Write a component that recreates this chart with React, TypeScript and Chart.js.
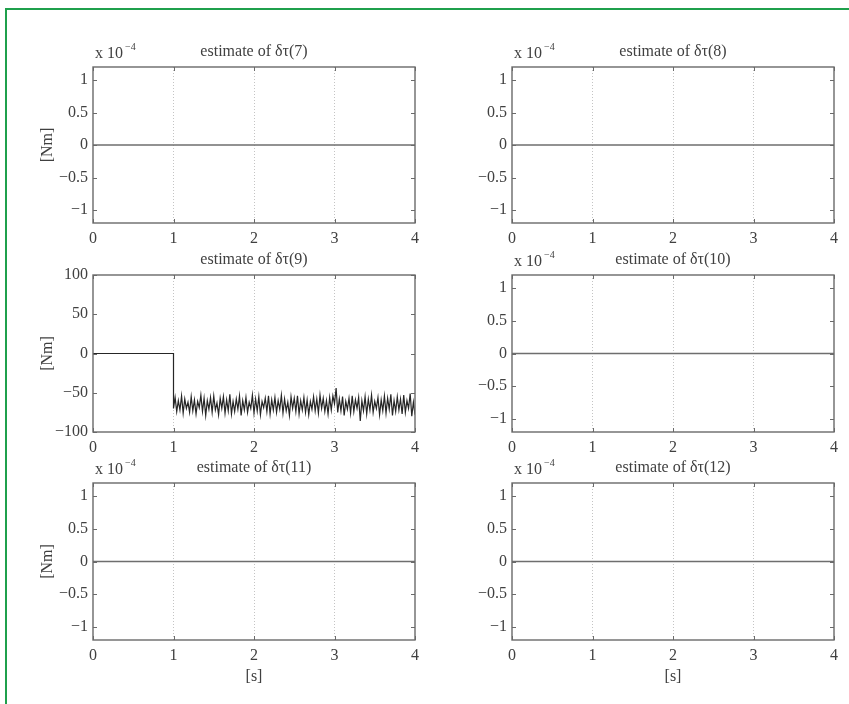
import React, { useEffect, useRef } from "react";
import { Chart, registerables } from "chart.js";

Chart.register(...registerables);

// ---------- data ----------
const xTicks = [0, 1, 2, 3, 4];
const smallTicks = [-1, -0.5, 0, 0.5, 1];
const bigTicks = [-100, -50, 0, 50, 100];

const panelTitles = [
  "estimate of δτ(7)",
  "estimate of δτ(8)",
  "estimate of δτ(9)",
  "estimate of δτ(10)",
  "estimate of δτ(11)",
  "estimate of δτ(12)",
];

// flat estimates (panels 7, 8, 10, 11, 12), in units of 1e-4 Nm
const flatTime = [0, 4];
const flatValues = [0, 0];

// panel 9: zero until t = 1 s, then noisy around -63 Nm
const step9Time = [0, 1];
const step9Values = [0, 0];
const noiseStart = 1;
const noiseEnd = 4;
const noise9Values = [
  -70, -56, -74, -60, -72, -54, -76, -58, -70, -62, -75, -55, -73, -59, -77, -61, -69, -53, -74, -57,
  -79, -60, -71, -56, -75, -54, -72, -63, -78, -57, -70, -55, -76, -59, -73, -52, -77, -61, -74, -58,
  -71, -54, -79, -60, -72, -56, -75, -62, -70, -53, -76, -58, -73, -55, -78, -61, -69, -57, -74, -54,
  -77, -59, -72, -56, -75, -60, -71, -53, -76, -58, -73, -62, -79, -55, -70, -57, -74, -54, -77, -60,
  -72, -56, -75, -59, -78, -61, -71, -55, -73, -58, -76, -53, -70, -57, -74, -60, -77, -56, -72, -54,
  -64, -44, -75, -58, -73, -55, -79, -61, -71, -57, -76, -54, -74, -59, -70, -56, -86, -60, -73, -55,
  -77, -58, -72, -53, -75, -61, -70, -56, -78, -59, -73, -54, -76, -57, -71, -52, -79, -60, -74, -55,
  -72, -58, -77, -53, -75, -60, -70, -51, -80, -62, -78,
];

const FONT = "'Liberation Serif', 'DejaVu Serif', 'Times New Roman', serif";
const TEXT = "#404040";
const FS = 16;

const fmt = (v: number) => {
  const s = String(Math.abs(v));
  return v < 0 ? "\u2212" + s : s;
};

type PanelCfg = {
  title: string;
  left: number;
  top: number;
  width: number;
  height: number;
  yAxisWidth: number;
  xAxisHeight: number;
  rightPad: number;
  big: boolean;
  yLabel: boolean;
  xLabel: boolean;
};

const innerTicks = {
  id: "innerTicks",
  afterDraw(chart: any) {
    const { ctx, chartArea: a, scales } = chart;
    ctx.save();
    ctx.strokeStyle = "#6a6a6a";
    ctx.lineWidth = 1;
    ctx.beginPath();
    const len = 4;
    for (const t of scales.x.ticks) {
      const px = Math.round(scales.x.getPixelForValue(t.value)) + 0.5;
      ctx.moveTo(px, a.bottom);
      ctx.lineTo(px, a.bottom - len);
      ctx.moveTo(px, a.top);
      ctx.lineTo(px, a.top + len);
    }
    for (const t of scales.y.ticks) {
      const py = Math.round(scales.y.getPixelForValue(t.value)) + 0.5;
      ctx.moveTo(a.left, py);
      ctx.lineTo(a.left + len, py);
      ctx.moveTo(a.right, py);
      ctx.lineTo(a.right - len, py);
    }
    ctx.stroke();
    ctx.lineWidth = 1.4;
    ctx.strokeStyle = "#6a6a6a";
    ctx.strokeRect(a.left, a.top, a.right - a.left, a.bottom - a.top);
    ctx.restore();
  },
};

const exponentLabel = {
  id: "exponentLabel",
  afterDraw(chart: any, _args: any, opts: any) {
    if (!opts || !opts.show) return;
    const { ctx, chartArea: a } = chart;
    ctx.save();
    ctx.fillStyle = TEXT;
    ctx.textBaseline = "alphabetic";
    ctx.textAlign = "left";
    ctx.font = `${FS}px ${FONT}`;
    const base = "x 10";
    ctx.fillText(base, a.left + 2, a.top - 9);
    const w = ctx.measureText(base).width;
    ctx.font = `10px ${FONT}`;
    ctx.fillText("\u22124", a.left + 4 + w, a.top - 17);
    ctx.restore();
  },
};

function Panel({ cfg, index }: { cfg: PanelCfg; index: number }) {
  const ref = useRef<HTMLCanvasElement>(null);
  useEffect(() => {
    if (!ref.current) return;
    const datasets: any[] = [];
    if (cfg.big) {
      const n = noise9Values.length;
      const dt = (noiseEnd - noiseStart) / (n - 1);
      const pts = step9Time.map((t, i) => ({ x: t, y: step9Values[i] }));
      noise9Values.forEach((v, i) => pts.push({ x: noiseStart + i * dt, y: v }));
      datasets.push({
        data: pts,
        borderColor: "#262626",
        borderWidth: 1.2,
        pointRadius: 0,
        tension: 0,
      });
    } else {
      datasets.push({
        data: flatTime.map((t, i) => ({ x: t, y: flatValues[i] })),
        borderColor: "#6e6e6e",
        borderWidth: 1.6,
        pointRadius: 0,
      });
    }
    const yt = cfg.big ? bigTicks : smallTicks;
    const chart = new Chart(ref.current, {
      type: "line",
      data: { datasets },
      plugins: [innerTicks, exponentLabel],
      options: {
        animation: false,
        responsive: false,
        maintainAspectRatio: false,
        layout: { padding: { left: 0, right: cfg.rightPad, top: 0, bottom: 0 } },
        plugins: {
          legend: { display: false },
          tooltip: { enabled: false },
          title: {
            display: true,
            text: cfg.title,
            fullSize: false,
            color: TEXT,
            font: { family: FONT, size: FS, weight: "normal" },
            padding: { top: 7, bottom: 5.8 },
          },
          exponentLabel: { show: !cfg.big },
        } as any,
        scales: {
          x: {
            type: "linear",
            min: 0,
            max: 4,
            afterBuildTicks: (axis: any) => {
              axis.ticks = xTicks.map((v) => ({ value: v }));
            },
            afterFit: (axis: any) => {
              axis.height = cfg.xAxisHeight;
            },
            grid: {
              display: true,
              drawTicks: false,
              color: (c: any) =>
                c.tick && (c.tick.value === 0 || c.tick.value === 4) ? "rgba(0,0,0,0)" : "#c4c4c4",
              lineWidth: 1,
            } as any,
            border: { display: false, dash: [1, 2] },
            ticks: {
              color: TEXT,
              font: { family: FONT, size: FS },
              padding: 6,
              maxRotation: 0,
              autoSkip: false,
              callback: (v: any) => fmt(Number(v)),
            },
            title: {
              display: cfg.xLabel,
              text: "[s]",
              color: TEXT,
              font: { family: FONT, size: FS },
              padding: { top: 0, bottom: 0 },
            },
          },
          y: {
            type: "linear",
            min: cfg.big ? -100 : -1.2,
            max: cfg.big ? 100 : 1.2,
            afterBuildTicks: (axis: any) => {
              axis.ticks = yt.map((v) => ({ value: v }));
            },
            afterFit: (axis: any) => {
              axis.width = cfg.yAxisWidth;
            },
            grid: { display: false, drawTicks: false },
            border: { display: false },
            ticks: {
              color: TEXT,
              font: { family: FONT, size: FS },
              padding: 5,
              autoSkip: false,
              callback: (v: any) => fmt(Number(v)),
            },
            title: {
              display: cfg.yLabel,
              text: "[Nm]",
              color: TEXT,
              font: { family: FONT, size: FS },
              padding: { top: 38.5, bottom: 0 },
            },
          },
        },
      } as any,
    });
    return () => chart.destroy();
  }, [cfg, index]);
  return (
    <canvas
      ref={ref}
      width={cfg.width}
      height={cfg.height}
      style={{
        position: "absolute",
        left: cfg.left,
        top: cfg.top,
        width: cfg.width,
        height: cfg.height,
      }}
    />
  );
}

const rowTops = [35, 243, 451];
const rowHeights = [213, 214, 235];

const panels: PanelCfg[] = panelTitles.map((title, i) => {
  const row = Math.floor(i / 2);
  const col = i % 2;
  return {
    title,
    left: col === 0 ? 0 : 425,
    top: rowTops[row],
    width: col === 0 ? 425 : 424,
    height: rowHeights[row],
    yAxisWidth: col === 0 ? 93 : 87,
    xAxisHeight: row === 2 ? 46 : 25,
    rightPad: col === 0 ? 10 : 15,
    big: i === 2,
    yLabel: col === 0,
    xLabel: row === 2,
  };
});

export default function App() {
  return (
    <div
      style={{
        position: "absolute",
        left: 0,
        top: 0,
        width: 849,
        height: 704,
        background: "#ffffff",
        overflow: "hidden",
      }}
    >
      <div
        style={{
          position: "absolute",
          left: 5,
          top: 8,
          width: 860,
          height: 720,
          borderLeft: "2px solid #1fa04c",
          borderTop: "2px solid #1fa04c",
        }}
      />
      {panels.map((p, i) => (
        <Panel key={i} cfg={p} index={i} />
      ))}
    </div>
  );
}
